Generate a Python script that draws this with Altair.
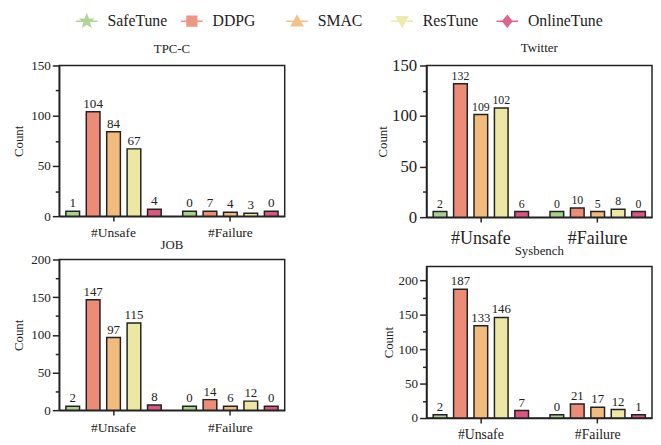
import math
import altair as alt
import pandas as pd

methods = ["SafeTune", "DDPG", "SMAC", "ResTune", "OnlineTune"]
groups = ["#Unsafe", "#Failure"]
colors = ["#a8d08d", "#ec8b76", "#f2bb7e", "#ede7a4", "#d9577f"]

# printed labels
tpcc_unsafe = [1, 104, 84, 67, 4]
tpcc_failure = [0, 7, 4, 3, 0]
twitter_unsafe = [2, 132, 109, 102, 6]
twitter_failure = [0, 10, 5, 8, 0]
job_unsafe = [2, 147, 97, 115, 8]
job_failure = [0, 14, 6, 12, 0]
sysbench_unsafe = [2, 187, 133, 146, 7]
sysbench_failure = [0, 21, 17, 12, 1]

# drawn bar heights
tpcc_unsafe_h = [5, 104, 84, 67, 7]
tpcc_failure_h = [5, 5, 4, 3, 5]
twitter_unsafe_h = [5.5, 132, 101.5, 108, 5.5]
twitter_failure_h = [5.5, 9, 5.5, 7.8, 5.5]
job_unsafe_h = [5.2, 146.5, 96.5, 115.6, 7]
job_failure_h = [5.2, 14, 5.2, 12, 5.2]
sysbench_unsafe_h = [4.8, 186.7, 134, 146, 11]
sysbench_failure_h = [4.8, 20.5, 15.7, 12.4, 4.8]

FONT = "Liberation Serif"
INK = "#222222"


def star_path():
    pts = []
    for i in range(10):
        a = -math.pi / 2 + i * math.pi / 5
        r = 0.58 if i % 2 == 0 else 0.24
        pts.append(f"{r*math.cos(a):.3f},{r*math.sin(a):.3f}")
    return "M-1,0H1M" + "L".join(pts) + "Z"


shape_paths = [
    star_path(),
    "M-1,0H1M-0.45,-0.45H0.45V0.45H-0.45Z",
    "M-1,0H1M0,-0.5L0.52,0.42L-0.52,0.42Z",
    "M-1,0H1M0,0.5L0.52,-0.42L-0.52,-0.42Z",
    "M-1,0H1M0,-0.52L0.42,0L0,0.52L-0.42,0Z",
]


def frame(unsafe, failure, uh, fh):
    rows = []
    for g, vals, hs in [(groups[0], unsafe, uh), (groups[1], failure, fh)]:
        for m, v, h in zip(methods, vals, hs):
            rows.append({"group": g, "method": m, "label": str(v), "height": h})
    return pd.DataFrame(rows)


def panel(df, title, ymax, ytop, height, tick_fs, xlab_fs, val_fs, title_offset,
          title_pad, ylab_pad, xlab_pad):
    yvals = list(range(0, ymax + 1, 25))
    x = alt.X("group:N", sort=groups, title=None,
              scale=alt.Scale(paddingInner=0.184, paddingOuter=0.057),
              axis=alt.Axis(labelAngle=0, tickSize=5, labelFontSize=xlab_fs,
                            labelPadding=xlab_pad))
    xo = alt.XOffset("method:N", sort=methods,
                     scale=alt.Scale(paddingInner=0.33, paddingOuter=0))
    y = alt.Y("height:Q", title="Count",
              scale=alt.Scale(domain=[0, ytop], nice=False),
              axis=alt.Axis(values=yvals,
                            labelExpr="datum.value % 50 === 0 ? datum.label : ''",
                            tickSize={"condition": {"test": "datum.value % 50 === 0", "value": 7}, "value": 4},
                            labelFontSize=tick_fs, labelPadding=ylab_pad,
                            titleFontSize=13, titlePadding=title_pad))
    base = alt.Chart(df)
    bars = base.mark_bar(stroke=INK, strokeWidth=1.5).encode(
        x=x, xOffset=xo, y=y,
        color=alt.Color("method:N", sort=methods,
                        scale=alt.Scale(domain=methods, range=colors), legend=None),
    )
    text = base.mark_text(baseline="alphabetic", dy=-4, font=FONT, fontSize=val_fs,
                          color=INK).encode(x=x, xOffset=xo, y=y, text="label:N")
    return alt.layer(bars, text).properties(
        width=229, height=height,
        title=alt.TitleParams(title, fontSize=13, font=FONT, fontWeight="normal",
                              color=INK, offset=title_offset),
    )


# ---- legend row (built from the method list through a point scale) ----
leg_df = pd.DataFrame({"method": methods})
leg_x = alt.X("method:N", sort=methods, axis=None,
              scale=alt.Scale(type="point", padding=0.262))
leg_sym = alt.Chart(leg_df).mark_point(filled=True, size=484, strokeWidth=1.5,
                                       opacity=0.9).encode(
    x=leg_x, y=alt.value(8),
    fill=alt.Fill("method:N", sort=methods,
                  scale=alt.Scale(domain=methods, range=colors), legend=None),
    stroke=alt.Stroke("method:N", sort=methods,
                      scale=alt.Scale(domain=methods, range=colors), legend=None),
    shape=alt.Shape("method:N", sort=methods,
                    scale=alt.Scale(domain=methods, range=shape_paths), legend=None),
)
leg_txt = alt.Chart(leg_df).mark_text(align="left", baseline="middle", dx=21,
                                      font=FONT, fontSize=16, color=INK).encode(
    x=leg_x, y=alt.value(8), text="method:N")
legend_row = alt.layer(leg_sym, leg_txt).properties(
    width=483, height=16, view=alt.ViewBackground(strokeOpacity=0, strokeWidth=0))

A = panel(frame(tpcc_unsafe, tpcc_failure, tpcc_unsafe_h, tpcc_failure_h),
          "TPC-C", 150, 150, 153, 13.3, 13.7, 13.3, 3, 5, 2, 5)
B = panel(frame(twitter_unsafe, twitter_failure, twitter_unsafe_h, twitter_failure_h),
          "Twitter", 150, 150, 154, 17, 18.2, 12, 2, 2, 3, 8)
C = panel(frame(job_unsafe, job_failure, job_unsafe_h, job_failure_h),
          "JOB", 200, 200, 153, 13.3, 13.7, 13, 1, 5, 2, 6)
D = panel(frame(sysbench_unsafe, sysbench_failure, sysbench_unsafe_h, sysbench_failure_h),
          "Sysbench", 200, 220, 154, 13.3, 14, 13, 9, 3, 2, 5)

left = alt.vconcat(A, C, spacing=44, bounds="flush")
right = alt.vconcat(B, D, spacing=50, bounds="flush")
main = alt.hconcat(left, right, spacing=91, bounds="full")
chart = alt.vconcat(legend_row, main, spacing=11, bounds="full").properties(
    padding={"left": 4, "top": 0, "right": 0, "bottom": 0}
).configure_view(stroke=INK, strokeWidth=1.5).configure_axis(
    domainColor=INK, domainWidth=1.5, tickColor=INK, tickWidth=1.5,
    labelFont=FONT, titleFont=FONT, labelColor=INK, titleColor=INK,
    titleFontWeight="normal", grid=False,
).configure_text(font=FONT)

chart.save("out.html", embed_options={"renderer": "svg", "actions": False})
